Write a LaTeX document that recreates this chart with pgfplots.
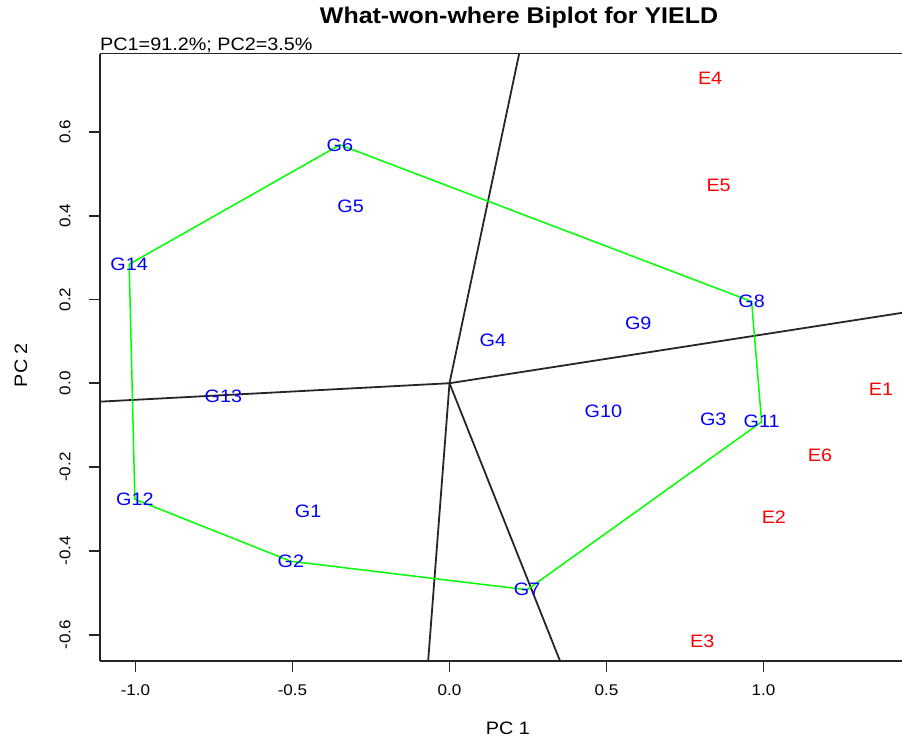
\documentclass[border=0pt]{standalone}
\usepackage{pgfplots}
\pgfplotsset{compat=1.18}
\usepackage{pgfplotstable}
\usepackage{fontspec}
\setmainfont{Liberation Sans}[FakeStretch=1.1]

\pgfplotstableread{
name x y
G1 -0.450 -0.305
G2 -0.505 -0.425
G3 0.840 -0.086
G4 0.138 0.103
G5 -0.315 0.423
G6 -0.349 0.569
G7 0.247 -0.493
G8 0.962 0.195
G9 0.601 0.143
G10 0.490 -0.066
G11 0.994 -0.092
G12 -1.002 -0.277
G13 -0.720 -0.032
G14 -1.020 0.284
}\genotypes

\pgfplotstableread{
name x y
E1 1.374 -0.014
E2 1.033 -0.320
E3 0.805 -0.615
E4 0.830 0.728
E5 0.857 0.473
E6 1.180 -0.173
}\environments

\pgfplotstableread{
x y
-0.349 0.569
0.962 0.195
0.994 -0.092
0.247 -0.493
-0.505 -0.425
-1.002 -0.277
-1.020 0.284
-0.349 0.569
}\hull

\definecolor{rgreen}{RGB}{0,255,0}
\definecolor{rblue}{RGB}{0,0,255}
\definecolor{rred}{RGB}{255,0,0}

\begin{document}
\begin{tikzpicture}
\useasboundingbox (-100pt,-78pt) rectangle (802pt,661pt);
\begin{axis}[
  scale only axis,
  width=802pt, height=607.5pt,
  xmin=-1.113, xmax=1.441,
  ymin=-0.663, ymax=0.787,
  axis x line=bottom, axis y line=left,
  axis line style={-, line width=1.8pt, draw=black!85},
  tick align=outside,
  major tick length=11pt,
  tick style={line width=1.8pt, draw=black!85},
  xtick={-1,-0.5,0,0.5,1},
  xticklabels={-1.0,-0.5,0.0,0.5,1.0},
  ytick={-0.6,-0.4,-0.2,0,0.2,0.4,0.6},
  yticklabels={-0.6,-0.4,-0.2,0.0,0.2,0.4,0.6},
  ticklabel style={font=\fontsize{15.5}{18}\selectfont},
  xticklabel style={yshift=-9pt},
  yticklabel style={rotate=90, anchor=south, yshift=15pt},
  clip=false,
]
\addplot[black!85, line width=1.8pt] coordinates {(0,0) (0.222,0.787)};
\addplot[black!85, line width=1.8pt] coordinates {(0,0) (1.441,0.168)};
\addplot[black!85, line width=1.8pt] coordinates {(0,0) (-1.113,-0.044)};
\addplot[black!85, line width=1.8pt] coordinates {(0,0) (-0.068,-0.663)};
\addplot[black!85, line width=1.8pt] coordinates {(0,0) (0.352,-0.663)};
\addplot[rgreen, line width=1.5pt] table[x=x, y=y] {\hull};
\addplot[only marks, mark=none, nodes near coords, point meta=explicit symbolic,
  nodes near coords style={anchor=center, text=rblue, font=\fontsize{18}{20}\selectfont}]
  table[x=x, y=y, meta=name] {\genotypes};
\addplot[only marks, mark=none, nodes near coords, point meta=explicit symbolic,
  nodes near coords style={anchor=center, text=rred, font=\fontsize{18}{20}\selectfont}]
  table[x=x, y=y, meta=name] {\environments};
\draw[line width=1.8pt, draw=black!85] (rel axis cs:0,1) -- (rel axis cs:1,1);
\end{axis}
\node[font=\fontsize{22.7}{26}\selectfont\bfseries] at (419pt,643pt) {What-won-where Biplot for YIELD};
\node[anchor=west, inner sep=0pt, font=\fontsize{18}{20}\selectfont] at (0pt,616pt) {PC1=91.2\%; PC2=3.5\%};
\node[font=\fontsize{18}{20}\selectfont] at (408pt,-67pt) {PC 1};
\node[rotate=90, font=\fontsize{18}{20}\selectfont] at (-79pt,296pt) {PC 2};
\end{tikzpicture}
\end{document}
